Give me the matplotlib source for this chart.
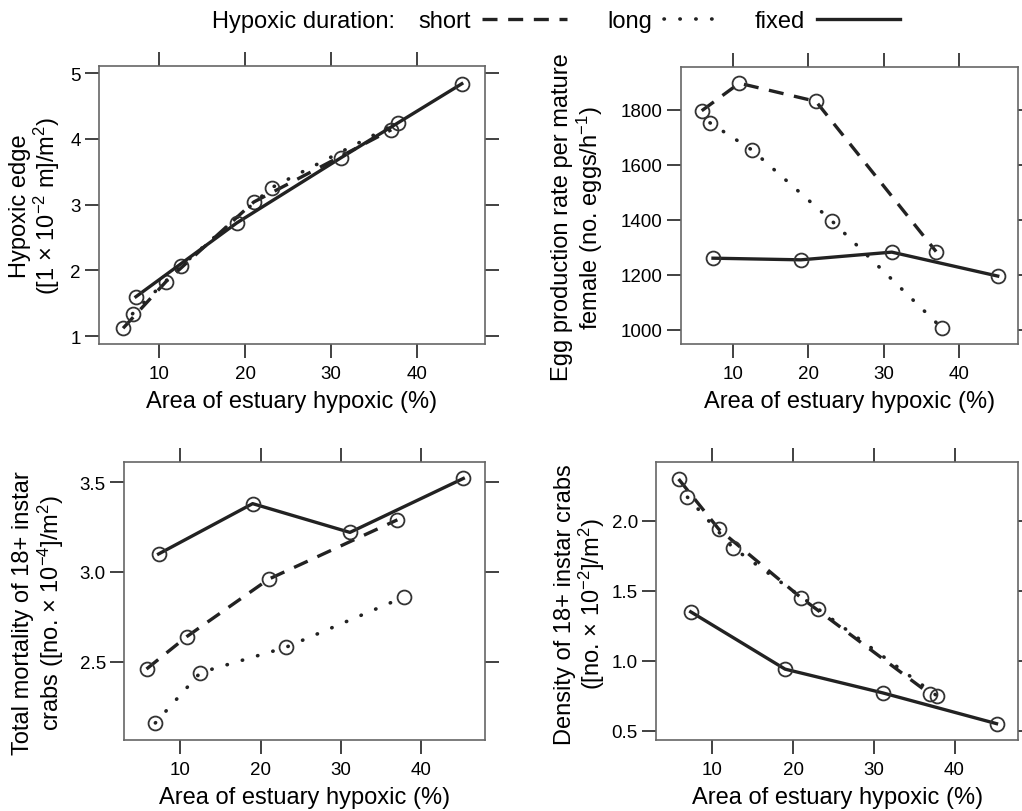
import matplotlib
matplotlib.use("Agg")
import matplotlib.pyplot as plt
from matplotlib.lines import Line2D

plt.rcParams['font.family'] = ['Liberation Sans', 'DejaVu Sans']
plt.rcParams['mathtext.default'] = 'regular'

# ---- data ----
x_short = [5.8, 10.8, 21.0, 37.0]
x_long = [6.9, 12.5, 23.1, 37.8]
x_fixed = [7.3, 19.0, 31.1, 45.2]

edge_short = [1.12, 1.83, 3.04, 4.14]
edge_long = [1.34, 2.06, 3.26, 4.25]
edge_fixed = [1.60, 2.72, 3.71, 4.84]

egg_short = [1796, 1896, 1830, 1284]
egg_long = [1752, 1653, 1396, 1005]
egg_fixed = [1260, 1254, 1282, 1195]

mort_short = [2.46, 2.64, 2.96, 3.29]
mort_long = [2.16, 2.44, 2.58, 2.86]
mort_fixed = [3.10, 3.38, 3.22, 3.52]

dens_short = [2.30, 1.94, 1.45, 0.76]
dens_long = [2.17, 1.81, 1.37, 0.75]
dens_fixed = [1.35, 0.94, 0.77, 0.55]

xticks = [10, 20, 30, 40]
xlabel = "Area of estuary hypoxic (%)"
series_names = ['short', 'long', 'fixed']

W, H = 1022, 812
fig = plt.figure(figsize=(W / 100, H / 100), dpi=100)

def px_axes(l, r, t, b):
    return fig.add_axes([l / W, 1 - b / H, (r - l) / W, (b - t) / H])

LC = '#222222'
styles = {
    'short': dict(linestyle=(0, (4.5, 3.2)), lw=2.4, color=LC),
    'long': dict(linestyle=(0, (0.1, 4.3)), lw=2.6, color=LC, dash_capstyle='round'),
    'fixed': dict(linestyle='-', lw=2.4, color=LC),
}
mk = dict(marker='o', ms=10, mfc='none', mec='#333333', mew=1.3)

panels = [
    (px_axes(99, 485, 67, 345), (edge_short, edge_long, edge_fixed),
     (0.88, 5.11), [1, 2, 3, 4, 5], ['1', '2', '3', '4', '5'],
     "Hypoxic edge\n([1 \u00d7 10$^{-2}$ m]/m$^{2}$)", -0.095, 0.5),
    (px_axes(680.7, 1018, 67.7, 345.3), (egg_short, egg_long, egg_fixed),
     (947, 1956), [1000, 1200, 1400, 1600, 1800], ['1000', '1200', '1400', '1600', '1800'],
     "Egg production rate per mature\nfemale (no. eggs/h$^{-1}$)", -0.225, 0.46),
    (px_axes(124, 485, 463.3, 741), (mort_short, mort_long, mort_fixed),
     (2.065, 3.61), [2.5, 3.0, 3.5], ['2.5', '3.0', '3.5'],
     "Total mortality of 18+ instar\ncrabs ([no. \u00d7 10$^{-4}$]/m$^{2}$)", -0.162, 0.46),
    (px_axes(656, 1018.3, 462.7, 741), (dens_short, dens_long, dens_fixed),
     (0.433, 2.424), [0.5, 1.0, 1.5, 2.0], ['0.5', '1.0', '1.5', '2.0'],
     "Density of 18+ instar crabs\n([no. \u00d7 10$^{-2}$]/m$^{2}$)", -0.135, 0.49),
]

for ax, (ys, yl, yf), ylim, yt, ytl, ylab, lx, ly in panels:
    ax.plot(x_short, ys, **styles['short'], **mk)
    ax.plot(x_long, yl, **styles['long'], **mk)
    ax.plot(x_fixed, yf, **styles['fixed'], **mk)
    ax.set_xlim(3.0, 47.9)
    ax.set_ylim(*ylim)
    ax.set_xticks(xticks)
    ax.set_xticklabels([str(t) for t in xticks])
    ax.set_yticks(yt)
    ax.set_yticklabels(ytl)
    ax.tick_params(axis='both', which='both', direction='out', length=10, width=1.3,
                   color='#333333', labelsize=13.5, top=True, right=True,
                   labeltop=False, labelright=False)
    ax.tick_params(axis='x', pad=5)
    ax.tick_params(axis='y', pad=3)
    for s in ax.spines.values():
        s.set_color('#666666')
        s.set_linewidth(1.2)
    ax.set_xlabel(xlabel, fontsize=17, labelpad=6)
    ax.set_ylabel(ylab, fontsize=17, linespacing=1.05)
    ax.yaxis.set_label_coords(lx, ly)

# ---- legend ----
fig.text(212 / W, 1 - 22 / H, "Hypoxic duration:", fontsize=17, va='center', ha='left')
leg_x = [418, 607, 755]
leg_len = [3.6, 2.4, 3.5]
for name, lxp, hl in zip(series_names, leg_x, leg_len):
    fig.legend([Line2D([], [], **styles[name])], [name], markerfirst=False, frameon=False,
               fontsize=17, handlelength=hl, handletextpad=0.5,
               loc='center left', bbox_to_anchor=(lxp / W, 1 - 22 / H),
               borderpad=0, borderaxespad=0)

fig.savefig("out.png", dpi=100)
